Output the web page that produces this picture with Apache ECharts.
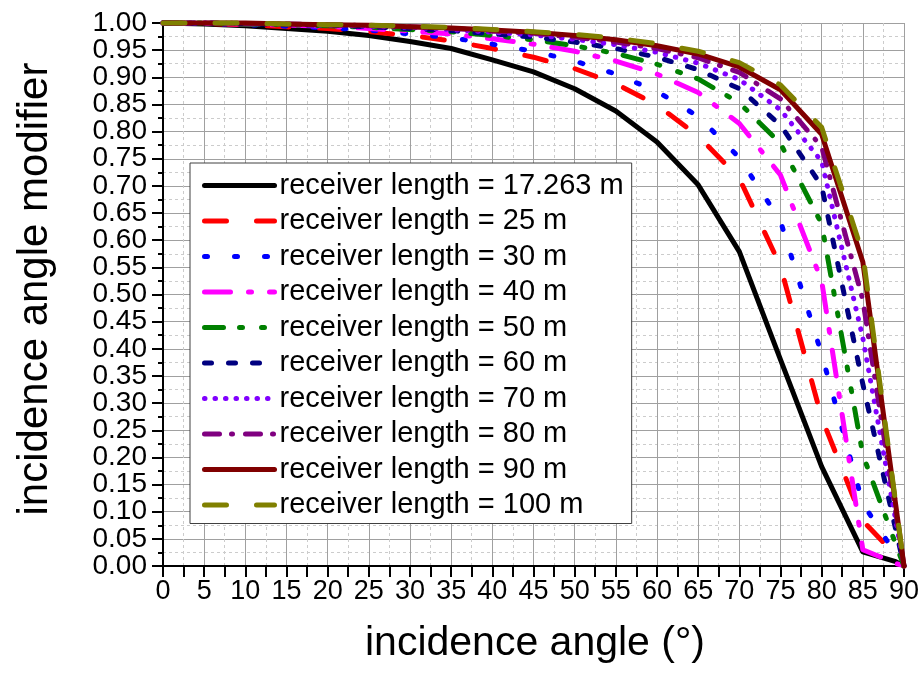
<!DOCTYPE html>
<html>
<head>
<meta charset="utf-8">
<title>incidence angle modifier</title>
<script src="https://cdn.jsdelivr.net/npm/echarts@6/dist/echarts.min.js"></script>
<style>
  html, body { margin: 0; padding: 0; background: #fff; }
  #chart { width: 922px; height: 675px; }
</style>
</head>
<body>
<div id="chart"></div>
<script>
(function() {
  'use strict';
  var echarts = window.echarts;

  // incidence angle (deg)
  var angles = [0, 5, 10, 15, 20, 25, 30, 35, 40, 45, 50, 55, 60, 65, 70, 75, 80, 85, 89, 90];

  // one curve per receiver length
  var L17 = [1, 0.998, 0.995, 0.99, 0.985, 0.977, 0.966, 0.953, 0.932, 0.91, 0.879, 0.838, 0.781, 0.702, 0.579, 0.38, 0.183, 0.026, 0.008, 0];
  var L25 = [1, 0.999, 0.997, 0.993, 0.99, 0.984, 0.977, 0.967, 0.953, 0.937, 0.916, 0.888, 0.849, 0.792, 0.714, 0.552, 0.273, 0.083, 0.02, 0];
  var L30 = [1, 0.999, 0.997, 0.994, 0.991, 0.987, 0.98, 0.973, 0.961, 0.948, 0.93, 0.906, 0.874, 0.828, 0.752, 0.635, 0.39, 0.115, 0.022, 0];
  var L40 = [1, 0.999, 0.998, 0.996, 0.994, 0.99, 0.985, 0.98, 0.971, 0.961, 0.948, 0.93, 0.906, 0.872, 0.815, 0.72, 0.525, 0.03, 0.005, 0];
  var L50 = [1, 1, 0.998, 0.997, 0.995, 0.992, 0.988, 0.984, 0.977, 0.969, 0.958, 0.944, 0.924, 0.897, 0.853, 0.778, 0.63, 0.205, 0.04, 0];
  var L60 = [1, 1, 0.999, 0.997, 0.996, 0.993, 0.99, 0.986, 0.98, 0.974, 0.965, 0.953, 0.937, 0.914, 0.879, 0.812, 0.70, 0.335, 0.067, 0];
  var L70 = [1, 1, 0.999, 0.998, 0.996, 0.994, 0.992, 0.988, 0.983, 0.978, 0.97, 0.96, 0.946, 0.926, 0.896, 0.84, 0.745, 0.42, 0.084, 0];
  var L80 = [1, 1, 0.999, 0.998, 0.997, 0.995, 0.993, 0.99, 0.985, 0.981, 0.974, 0.965, 0.953, 0.936, 0.909, 0.86, 0.772, 0.49, 0.098, 0];
  var L90 = [1, 1, 1, 0.998, 0.997, 0.996, 0.993, 0.991, 0.987, 0.983, 0.977, 0.969, 0.958, 0.943, 0.919, 0.877, 0.795, 0.56, 0.112, 0];
  var L100 = [1, 1, 1, 0.998, 0.997, 0.996, 0.994, 0.992, 0.988, 0.984, 0.979, 0.972, 0.962, 0.948, 0.927, 0.886, 0.808, 0.575, 0.115, 0];

  var names = [
    'receiver length = 17.263 m',
    'receiver length = 25 m',
    'receiver length = 30 m',
    'receiver length = 40 m',
    'receiver length = 50 m',
    'receiver length = 60 m',
    'receiver length = 70 m',
    'receiver length = 80 m',
    'receiver length = 90 m',
    'receiver length = 100 m'
  ];
  var values = [L17, L25, L30, L40, L50, L60, L70, L80, L90, L100];

  var colors = ['#000000', '#ff0000', '#0000ff', '#ff00ff', '#008000',
                '#000080', '#8000ff', '#800080', '#800000', '#808000'];
  // dash patterns (px)
  var dashes = [
    'solid',
    [22, 30],
    [3, 27],
    [26, 18, 3, 18],
    [19, 16, 3, 19, 3, 17],
    [7, 17],
    [0.5, 10],
    [15, 12, 1, 13],
    'solid',
    [22, 30]
  ];

  var font = '"Liberation Sans", Arial, sans-serif';

  function makeSeries(i) {
    var pts = [];
    for (var k = 0; k < angles.length; k++) {
      pts.push([angles[k], values[i][k]]);
    }
    return {
      name: names[i],
      type: 'line',
      data: pts,
      symbol: 'none',
      clip: false,
      z: 10 + i,
      lineStyle: {
        color: colors[i],
        width: 5,
        type: dashes[i],
        cap: 'round',
        join: 'round'
      },
      itemStyle: { color: colors[i] }
    };
  }

  var series = [];
  for (var i = 0; i < names.length; i++) {
    series.push(makeSeries(i));
  }

  // y 标签很密，拆成两根轴交替显示，避免被 ECharts 隐藏
  function yLabel(odd) {
    return function(v, idx) {
      return (idx % 2 === 1) === odd ? v.toFixed(2) : '';
    };
  }
  var yLabelStyle = {
    fontFamily: font,
    fontSize: 28,
    color: '#000',
    margin: 16
  };

  var myChart = echarts.init(document.getElementById('chart'), null, { renderer: 'canvas' });

  var option = {
    animation: false,
    color: colors,
    grid: {
      left: 163,
      right: 17,
      top: 23,
      bottom: 109
    },
    legend: {
      data: names,
      orient: 'vertical',
      left: 190,
      top: 163,
      padding: [8, 8, 4, 12],
      itemWidth: 70,
      itemHeight: 20,
      itemGap: 6.5,
      backgroundColor: '#ffffff',
      borderColor: '#404040',
      borderWidth: 1,
      borderRadius: 0,
      z: 50,
      itemStyle: { opacity: 0 },   // 只要线，不要圆点
      lineStyle: { width: 5, cap: 'round' },
      textStyle: {
        fontFamily: font,
        fontSize: 29,
        color: '#000',
        lineHeight: 29
      }
    },
    xAxis: {
      type: 'value',
      min: 0,
      max: 90,
      interval: 5,
      minorTick: { show: true, splitNumber: 2, length: 11, lineStyle: { color: '#000', width: 2 } },
      axisTick: { show: true, length: 11, lineStyle: { color: '#000', width: 2 } },
      axisLine: { show: true, onZero: false, lineStyle: { color: '#000', width: 2 } },
      axisLabel: {
        fontFamily: font,
        fontSize: 27,
        color: '#000',
        margin: 12,
        showMinLabel: true,
        showMaxLabel: true
      },
      splitLine: { show: true, lineStyle: { color: '#a0a0a0', width: 1 } },
      minorSplitLine: { show: true, lineStyle: { color: '#cccccc', width: 1, type: [3, 3] } }
    },
    yAxis: [
      {
        type: 'value',
        position: 'left',
        min: 0,
        max: 1,
        interval: 0.05,
        minorTick: { show: true, splitNumber: 2, length: 5, lineStyle: { color: '#000', width: 2 } },
        axisTick: { show: true, length: 11, lineStyle: { color: '#000', width: 2 } },
        axisLine: { show: true, onZero: false, lineStyle: { color: '#000', width: 2 } },
        axisLabel: echarts.util.extend({
          showMinLabel: true,
          showMaxLabel: true,
          formatter: yLabel(false)
        }, yLabelStyle),
        splitLine: { show: true, lineStyle: { color: '#a0a0a0', width: 1 } },
        minorSplitLine: { show: true, lineStyle: { color: '#cccccc', width: 1, type: [3, 3] } }
      },
      {
        type: 'value',
        position: 'left',
        offset: 0,
        min: 0,
        max: 1,
        interval: 0.05,
        axisLine: { show: false },
        axisTick: { show: false },
        splitLine: { show: false },
        axisLabel: echarts.util.extend({
          showMinLabel: false,
          showMaxLabel: false,
          formatter: yLabel(true)
        }, yLabelStyle)
      }
    ],
    // axis titles
    graphic: [
      {
        type: 'text',
        x: 535,
        y: 644,
        style: {
          text: 'incidence angle (°)',
          font: '41px ' + font,
          fill: '#000',
          textAlign: 'center',
          textVerticalAlign: 'middle'
        }
      },
      {
        type: 'text',
        x: 35,
        y: 289,
        rotation: Math.PI / 2,
        style: {
          text: 'incidence angle modifier',
          font: '42px ' + font,
          fill: '#000',
          textAlign: 'center',
          textVerticalAlign: 'middle'
        }
      }
    ],
    series: series
  };

  myChart.setOption(option);
}());
</script>
</body>
</html>
